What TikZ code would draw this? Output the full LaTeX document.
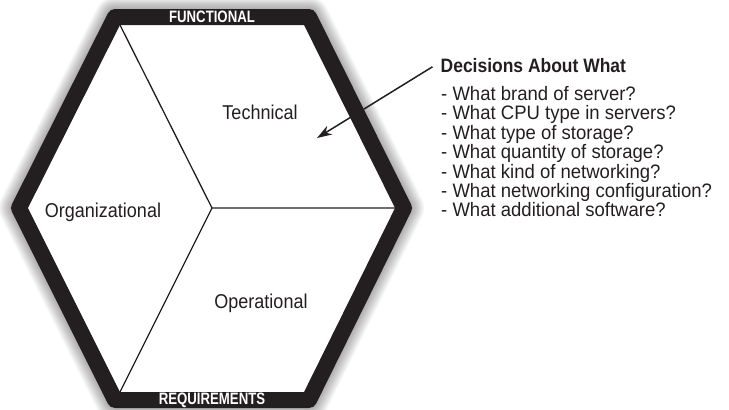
\documentclass[tikz,border=0pt]{standalone}
\usepackage{fontspec}
\setmainfont{Liberation Sans}
\newfontfamily\condfont[FakeStretch=0.9]{Liberation Sans}
\newfontfamily\listfont[FakeStretch=0.95]{Liberation Sans}
\newfontfamily\bandfont[FakeStretch=0.8]{Liberation Sans}
\usetikzlibrary{arrows.meta}
\definecolor{ink}{HTML}{231F20}
\tikzset{
  band/.style={draw=ink, line width=16pt, line join=round},
  glow/.style={draw=black, line join=round},
  divider/.style={draw=ink, line width=1.3pt},
  region/.style={font=\condfont\fontsize{20}{22}\selectfont, text=ink, inner sep=0pt},
  bandtext/.style={font=\bandfont\bfseries\fontsize{16.5}{18}\selectfont, text=white, inner sep=0pt},
  listitem/.style={font=\listfont\fontsize{19.5}{21}\selectfont, text=ink, inner sep=0pt, anchor=base west},
  titletext/.style={font=\condfont\bfseries\fontsize{19.4}{21}\selectfont, text=ink, inner sep=0pt, anchor=base west},
  pointer/.style={draw=ink, line width=1.5pt, -{Stealth[length=15pt,width=10pt]}}
}
\begin{document}
\begin{tikzpicture}[x=1pt,y=-1pt]
\useasboundingbox (0,0) rectangle (729,410);
% hexagon centerline vertices
\coordinate (tl) at (115,17);
\coordinate (tr) at (309,17);
\coordinate (rv) at (404,208);
\coordinate (br) at (309,400);
\coordinate (bl) at (115,400);
\coordinate (lv) at (19,208);
% inner vertices and centre
\coordinate (itl) at (120,25);
\coordinate (irv) at (395,208);
\coordinate (ibl) at (120,392);
\coordinate (ctr) at (212,208);
% soft shadow
\foreach \k in {1,...,10}{
  \pgfmathsetmacro{\gw}{16+2.4*\k}
  \draw[glow, line width=\gw pt, opacity=0.035, xshift=3pt, yshift=-1pt]
    (tl) -- (tr) -- (rv) -- (br) -- (bl) -- (lv) -- cycle;
}
\fill[white] (tl) -- (tr) -- (rv) -- (br) -- (bl) -- (lv) -- cycle;
% dividers
\draw[divider] (itl) -- (ctr) -- (irv);
\draw[divider] (ctr) -- (ibl);
% band
\draw[band] (tl) -- (tr) -- (rv) -- (br) -- (bl) -- (lv) -- cycle;
\node[bandtext] (fun) at (212,17) {FUNCTIONAL};
\node[bandtext] (req) at (212,400) {REQUIREMENTS};
% regions
\node[region] (tech) at (260,112) {Technical};
\node[region] (org) at (103,212) {Organizational};
\node[region] (ops) at (261,303) {Operational};
% list
\node[titletext] (title) at (440.5,72.7) {Decisions About What};
\node[listitem] (l1) at (441,100.5) {- What brand of server?};
\node[listitem] (l2) at (441,119.9) {- What CPU type in servers?};
\node[listitem] (l3) at (441,139.3) {- What type of storage?};
\node[listitem] (l4) at (441,158.7) {- What quantity of storage?};
\node[listitem] (l5) at (441,178.1) {- What kind of networking?};
\node[listitem] (l6) at (441,197.5) {- What networking configuration?};
\node[listitem] (l7) at (441,216.9) {- What additional software?};
% arrow
\coordinate (tip) at (317,138);
\draw[pointer] ([xshift=-8pt,yshift=-1pt]title.west) -- (tip);
\end{tikzpicture}
\end{document}
